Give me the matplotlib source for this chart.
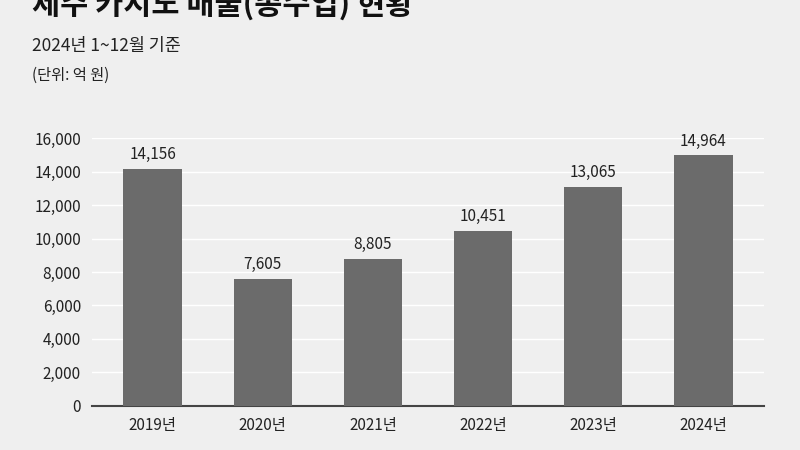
import matplotlib.pyplot as plt

plt.rcParams['font.family'] = ['Noto Sans CJK KR', 'DejaVu Sans']

years = ['2019년', '2020년', '2021년', '2022년', '2023년', '2024년']
revenue = [14156, 7605, 8805, 10451, 13065, 14964]

bg = '#efefef'
fig = plt.figure(figsize=(8, 4.5), dpi=100, facecolor=bg)
ax = fig.add_axes([0.115, 0.098, 0.84, 0.595], facecolor=bg)

x = range(len(years))
ax.bar(x, revenue, width=0.53, color='#6b6b6b', zorder=3)
for xi, v in zip(x, revenue):
    ax.text(xi, v + 350, f'{v:,}', ha='center', va='bottom', fontsize=11, color='#222222')

ax.set_xlim(-0.55, 5.55)
ax.set_ylim(0, 16000)
ax.set_yticks(range(0, 16001, 2000))
ax.set_yticklabels([f'{t:,}' for t in range(0, 16001, 2000)])
ax.set_xticks(list(x))
ax.set_xticklabels(years)
ax.tick_params(length=0, labelsize=11, colors='#222222', pad=8)
ax.grid(axis='y', color='white', linewidth=1, zorder=0)
for s in ['top', 'right', 'left']:
    ax.spines[s].set_visible(False)
ax.spines['bottom'].set_color('#444444')
ax.spines['bottom'].set_linewidth(1.5)

# title is partly cut off at the top edge, as in the source image
fig.text(0.04, 0.99, '제주 카지노 매출(총수입) 현황', fontsize=22, fontweight='bold',
         color='#111111', va='center')
fig.text(0.04, 0.898, '2024년 1~12월 기준', fontsize=12.5, color='#222222', va='center')
fig.text(0.04, 0.833, '(단위: 억 원)', fontsize=11, color='#222222', va='center')

fig.savefig('out.png', dpi=100, facecolor=bg)
